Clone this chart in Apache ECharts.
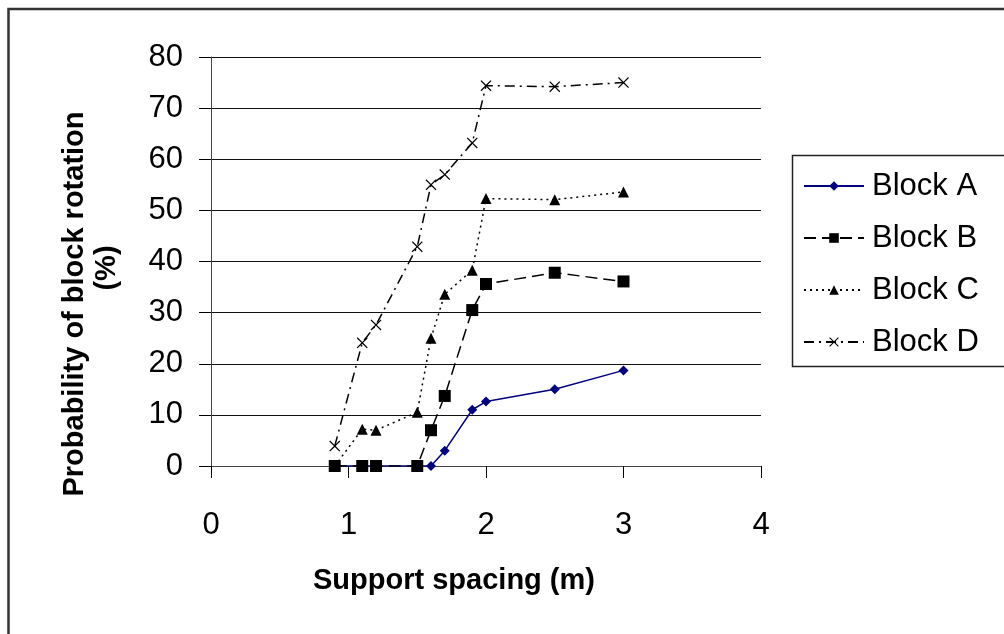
<!DOCTYPE html>
<html>
<head>
<meta charset="utf-8">
<script src="https://cdn.jsdelivr.net/npm/echarts@6/dist/echarts.min.js"></script>
<style>
html,body{margin:0;padding:0;background:#fff;}
#chart{width:1004px;height:634px;}
</style>
</head>
<body>
<div id="chart"></div>
<script>
// Data
const spacing = [0.9, 1.1, 1.2, 1.5, 1.6, 1.7, 1.9, 2.0, 2.5, 3.0];
const blockA = [0, 0, 0, 0, 0, 3, 11, 12.6, 15, 18.7];
const blockB = [0, 0, 0, 0, 7, 13.7, 30.5, 35.6, 37.8, 36.1];
const blockC = [0, 7.2, 7, 10.5, 25, 33.6, 38.3, 52.3, 52.1, 53.6];
const blockD = [3.9, 24.1, 27.6, 42.9, 55, 57, 63.2, 74.4, 74.2, 75];
const seriesNames = ['Block A', 'Block B', 'Block C', 'Block D'];
const xTitle = 'Support spacing (m)';
const yTitleLine1 = 'Probability of block rotation';
const yTitleLine2 = '(%)';

const FONT = "'Liberation Sans', Arial, Helvetica, sans-serif";
const pairs = (ys) => spacing.map((x, i) => [x, ys[i]]);
const crossPath = 'path://M0,0.8L0.8,0L5,4.2L9.2,0L10,0.8L5.8,5L10,9.2L9.2,10L5,5.8L0.8,10L0,9.2L4.2,5Z';

const chart = echarts.init(document.getElementById('chart'), null, {renderer: 'canvas'});
chart.setOption({
  animation: false,
  backgroundColor: '#fff',
  grid: {left: 211, right: 243, top: 57, bottom: 168, containLabel: false},
  xAxis: {
    type: 'value', min: 0, max: 4, interval: 1,
    axisLine: {show: true, onZero: false, lineStyle: {color: '#444', width: 1}},
    axisTick: {show: true, inside: false, length: 12, lineStyle: {color: '#000'}},
    axisLabel: {margin: 44, color: '#000', fontFamily: FONT, fontSize: 31},
    splitLine: {show: false}
  },
  yAxis: {
    type: 'value', min: 0, max: 80, interval: 10,
    axisLine: {show: true, lineStyle: {color: '#444', width: 1}},
    axisTick: {show: true, inside: false, length: 12, lineStyle: {color: '#000'}},
    axisLabel: {margin: 28, color: '#000', fontFamily: FONT, fontSize: 31},
    splitLine: {show: true, lineStyle: {color: '#111', width: 1}}
  },
  legend: {
    orient: 'vertical', left: 803, top: 168, padding: 0,
    itemWidth: 60, itemHeight: 12, itemGap: 16,
    textStyle: {fontFamily: FONT, fontSize: 31, color: '#000', lineHeight: 36, padding: [0, 0, 0, 3]},
    data: seriesNames
  },
  graphic: [
    {type: 'rect', z: -1, shape: {x: 8.5, y: 9, width: 1100, height: 700},
     style: {fill: 'none', stroke: '#333', lineWidth: 2.5}},
    {type: 'rect', z: 0, shape: {x: 792.5, y: 155.5, width: 300, height: 211},
     style: {fill: '#fff', stroke: '#222', lineWidth: 1.5}},
    {type: 'text', x: 454, y: 581,
     style: {text: xTitle, font: "bold 29px " + FONT, fill: '#000', textAlign: 'center', textVerticalAlign: 'middle'}},
    {type: 'text', x: 75, y: 304, rotation: Math.PI / 2,
     style: {text: yTitleLine1, font: "bold 29px " + FONT, fill: '#000', textAlign: 'center', textVerticalAlign: 'middle'}},
    {type: 'text', x: 107, y: 268, rotation: Math.PI / 2,
     style: {text: yTitleLine2, font: "bold 29px " + FONT, fill: '#000', textAlign: 'center', textVerticalAlign: 'middle'}}
  ],
  series: [
    {name: seriesNames[0], type: 'line', data: pairs(blockA),
     symbol: 'diamond', symbolSize: 10, showAllSymbol: true,
     lineStyle: {color: '#000080', width: 1.5, type: 'solid'},
     itemStyle: {color: '#000080'}},
    {name: seriesNames[1], type: 'line', data: pairs(blockB),
     symbol: 'rect', symbolSize: 12, showAllSymbol: true,
     lineStyle: {color: '#000', width: 1.5, type: [12, 6]},
     itemStyle: {color: '#000'}},
    {name: seriesNames[2], type: 'line', data: pairs(blockC),
     symbol: 'triangle', symbolSize: 11, showAllSymbol: true,
     lineStyle: {color: '#000', width: 1.5, type: [2, 4]},
     itemStyle: {color: '#000'}},
    {name: seriesNames[3], type: 'line', data: pairs(blockD),
     symbol: crossPath, symbolSize: 11, showAllSymbol: true,
     lineStyle: {color: '#000', width: 1.5, type: [10, 5, 2, 5]},
     itemStyle: {color: '#000'}}
  ]
});
</script>
</body>
</html>
